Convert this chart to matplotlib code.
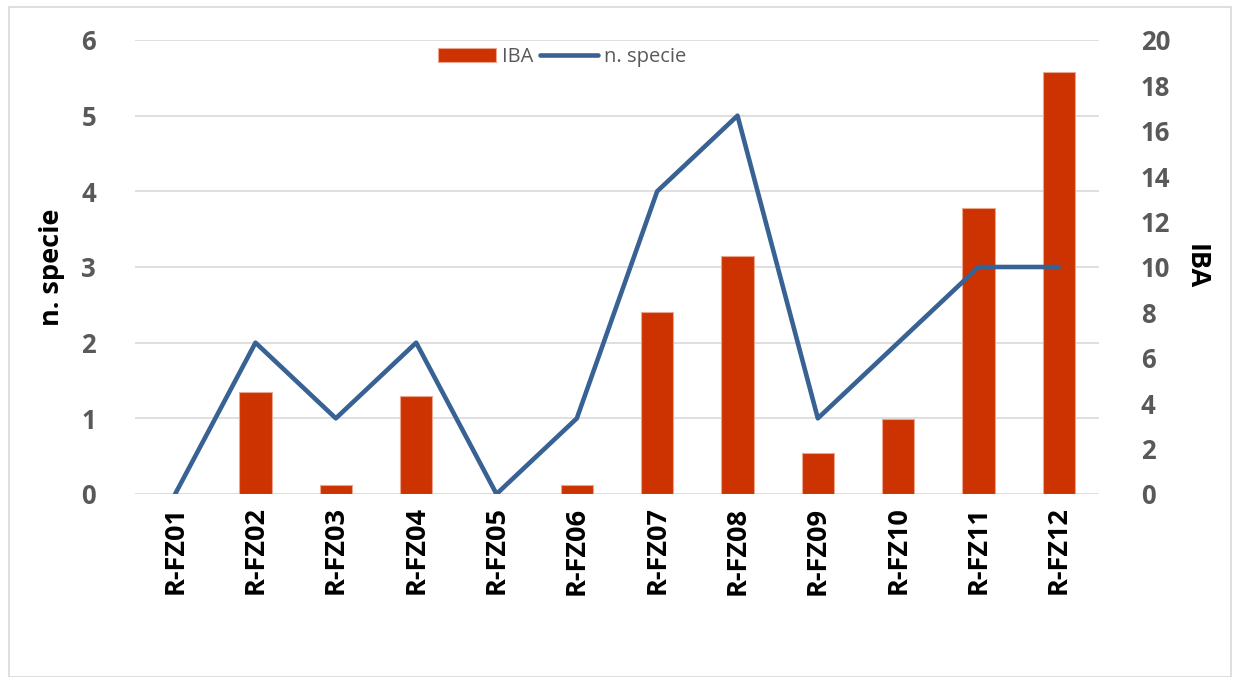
import numpy as np
import matplotlib.pyplot as plt
from matplotlib.patches import Rectangle

plt.rcParams['font.family'] = ['Open Sans', 'DejaVu Sans']

# stazioni, indice IBA (barre) e numero di specie (linea)
stazioni = ['R-FZ01', 'R-FZ02', 'R-FZ03', 'R-FZ04', 'R-FZ05', 'R-FZ06',
            'R-FZ07', 'R-FZ08', 'R-FZ09', 'R-FZ10', 'R-FZ11', 'R-FZ12']
iba = [0, 4.5, 0.4, 4.3, 0, 0.4, 8.0, 10.5, 1.8, 3.3, 12.6, 18.6]
n_specie = [0, 2, 1, 2, 0, 1, 4, 5, 1, 2, 3, 3]

W, H = 1236, 677
fig = plt.figure(figsize=(W / 100, H / 100), dpi=100)
fig.patches.append(Rectangle((9 / W, 0), 1222 / W, 1 - 7 / H, transform=fig.transFigure,
                             fill=False, edgecolor='#d9d9d9', lw=1.2))

ax = fig.add_axes([135 / W, 1 - 494 / H, (1099 - 135) / W, (494 - 40) / H])
ax2 = ax.twinx()

x = np.arange(len(stazioni))
bar_col = '#cc3300'
line_col = '#386194'
tick_col = '#595959'

ax2.bar(x, iba, width=0.4, color=bar_col, edgecolor='#eba58c', linewidth=0.8, label='IBA', zorder=2)
ax.plot(x, n_specie, color=line_col, lw=3.3, solid_capstyle='round', solid_joinstyle='round',
        label='n. specie', zorder=3)

# la linea va sopra le barre
ax.set_zorder(ax2.get_zorder() + 1)
ax.patch.set_visible(False)

ax.set_xlim(-0.5, len(stazioni) - 0.5)
ax.set_ylim(0, 6)
ax2.set_ylim(0, 20)
ax.set_yticks(range(0, 7))
ax2.set_yticks(range(0, 21, 2))

ax2.grid(False)
for v in range(0, 7):
    ax2.axhline(v * 20 / 6, color='#d9d9d9', lw=1.2, zorder=0)

for a in (ax, ax2):
    for s in a.spines.values():
        s.set_visible(False)
    a.tick_params(length=0)

ax.tick_params(axis='y', labelsize=18.5, labelcolor=tick_col, pad=28)
ax2.tick_params(axis='y', labelsize=18.5, labelcolor=tick_col, pad=30)
for lab in ax.get_yticklabels() + ax2.get_yticklabels():
    lab.set_fontweight('bold')

ax.set_xticks(x)
ax.set_xticklabels(stazioni, rotation=90, fontsize=19.5, fontweight='bold', color='black')
ax.tick_params(axis='x', pad=9)

ax.set_ylabel('n. specie', fontsize=19.5, fontweight='bold', labelpad=12)
ax2.set_ylabel('IBA', fontsize=19.5, fontweight='bold', rotation=270, labelpad=28)

h1, l1 = ax2.get_legend_handles_labels()
h2, l2 = ax.get_legend_handles_labels()
leg = ax.legend(h1 + h2, l1 + l2, loc='center', bbox_to_anchor=(562 / W, 1 - 57 / H),
                bbox_transform=fig.transFigure, ncol=2, frameon=False, fontsize=14.5,
                handlelength=2.9, handleheight=0.7, columnspacing=0.3, handletextpad=0.3)
for t in leg.get_texts():
    t.set_color(tick_col)

fig.savefig('out.png', dpi=100)
